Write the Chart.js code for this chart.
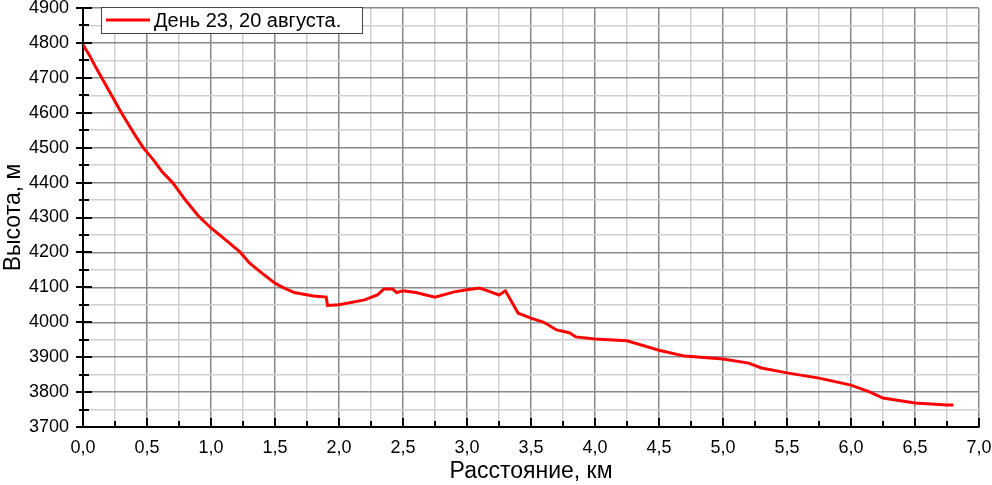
<!DOCTYPE html>
<html>
<head>
<meta charset="utf-8">
<script src="https://cdn.jsdelivr.net/npm/chart.js@4/dist/chart.umd.min.js"></script>
<style>
  html, body { margin: 0; padding: 0; background: #fff; }
  #wrap { width: 992px; height: 485px; }
</style>
</head>
<body>
<div id="wrap"><canvas id="profileChart"></canvas></div>
<script>
// профиль дня 23
var distKm = [0, 0.05, 0.1, 0.2, 0.3, 0.4, 0.47, 0.55, 0.62, 0.7, 0.8, 0.9, 1.0, 1.1, 1.23, 1.3, 1.4, 1.5, 1.56, 1.65,
    1.8, 1.9, 1.91, 2.0, 2.2, 2.3, 2.35, 2.42, 2.45, 2.5, 2.6, 2.75, 2.9, 3.0, 3.1, 3.2, 3.25, 3.3, 3.4, 3.5,
    3.6, 3.7, 3.8, 3.85, 4.0, 4.25, 4.5, 4.7, 5.0, 5.2, 5.3, 5.5, 5.75, 6.0, 6.15, 6.25, 6.5, 6.75, 6.8];
var elevM = [4795, 4765, 4730, 4665, 4600, 4540, 4500, 4465, 4430, 4400, 4350, 4305, 4270, 4240, 4200, 4170, 4140, 4112, 4100, 4085,
    4075, 4072, 4048, 4050, 4064, 4078, 4095, 4095, 4085, 4090, 4085, 4072, 4087, 4093, 4098, 4085, 4078, 4090, 4026, 4012,
    4000, 3978, 3970, 3958, 3952, 3947, 3920, 3903, 3895, 3883, 3869, 3855, 3840, 3820, 3800, 3783, 3769, 3763, 3763];
var seriesName = 'День 23, 20 августа.';
var xTitle = 'Расстояние, км';
var yTitle = 'Высота, м';

var points = [];
for (var i = 0; i < distKm.length; i++) {
    points.push({x: distKm[i], y: elevM[i]});
}

var FONT = '"Liberation Sans", Arial, sans-serif';

// ticks inside + legend box like in Origin
var originStyle = {
    id: 'originStyle',
    afterDraw: function (chart) {
        var c = chart.ctx, a = chart.chartArea;
        var xs = chart.scales.x, ys = chart.scales.y;
        c.save();
        c.strokeStyle = '#000';
        c.lineWidth = 2;
        // x ticks
        for (var v = 0; v <= 7.0001; v += 0.25) {
            var px = Math.round(xs.getPixelForValue(v));
            var major = Math.abs(v * 2 - Math.round(v * 2)) < 0.001;
            c.beginPath();
            c.moveTo(px, a.bottom);
            c.lineTo(px, a.bottom - (major ? 9 : 6));
            c.stroke();
        }
        // y ticks
        for (var w = 3700; w <= 4900; w += 50) {
            var py = Math.round(ys.getPixelForValue(w));
            var maj = w % 100 === 0;
            c.beginPath();
            c.moveTo(a.left - (maj ? 7 : 4), py);
            c.lineTo(a.left + (maj ? 9 : 6), py);
            c.stroke();
        }
        // legend
        var bx = 101, by = 7, bw = 261, bh = 26;
        c.fillStyle = '#fff';
        c.fillRect(bx, by, bw, bh);
        c.lineWidth = 1;
        c.strokeStyle = '#444';
        c.strokeRect(bx + 0.5, by + 0.5, bw, bh);
        c.strokeStyle = '#ff0000';
        c.lineWidth = 3;
        c.beginPath();
        c.moveTo(106, 20);
        c.lineTo(150, 20);
        c.stroke();
        c.fillStyle = '#000';
        c.font = '20px ' + FONT;
        c.textBaseline = 'middle';
        c.fillText(seriesName, 154, 21);
        c.restore();
    }
};

var ctx = document.getElementById('profileChart');

var profileChart = new Chart(ctx, {
    type: 'line',
    data: {
        datasets: [{
            label: seriesName,
            data: points,
            borderColor: '#ff0000',
            borderWidth: 3,
            pointRadius: 0,
            tension: 0,
            fill: false
        }]
    },
    options: {
        responsive: true,
        maintainAspectRatio: false,
        animation: false,
        layout: {padding: {top: 8, right: 13, left: 0, bottom: 0}},
        plugins: {
            legend: {display: false},
            tooltip: {enabled: false}
        },
        scales: {
            x: {
                type: 'linear',
                min: 0,
                max: 7,
                afterFit: function (s) {
                    s.height = 58;
                    s.paddingLeft = 0;
                    s.paddingRight = 0;
                },
                border: {color: '#000', width: 2},
                grid: {
                    drawTicks: false,
                    lineWidth: 1.5,
                    color: function (c) {
                        var v = c.tick.value;
                        return Math.abs(v * 2 - Math.round(v * 2)) < 0.001 ? '#8a8a8a' : '#d0d0d0';
                    }
                },
                ticks: {
                    stepSize: 0.25,
                    autoSkip: false,
                    maxRotation: 0,
                    padding: 10,
                    color: '#000',
                    font: {family: FONT, size: 18},
                    callback: function (v) {
                        if (Math.abs(v * 2 - Math.round(v * 2)) > 0.001) return '';
                        return v.toFixed(1).replace('.', ',');
                    }
                },
                title: {
                    display: true,
                    text: xTitle,
                    color: '#000',
                    font: {family: FONT, size: 23},
                    padding: {top: 0, bottom: 0}
                }
            },
            y: {
                min: 3700,
                max: 4900,
                afterFit: function (s) {
                    s.width = 83;
                    s.paddingTop = 0;
                    s.paddingBottom = 0;
                },
                border: {color: '#000', width: 2},
                grid: {
                    drawTicks: false,
                    lineWidth: 1.5,
                    color: function (c) {
                        return c.tick.value % 100 === 0 ? '#8a8a8a' : '#d0d0d0';
                    }
                },
                ticks: {
                    stepSize: 50,
                    autoSkip: false,
                    padding: 14,
                    color: '#000',
                    font: {family: FONT, size: 18},
                    callback: function (v) {
                        return v % 100 === 0 ? String(v) : '';
                    }
                },
                title: {
                    display: true,
                    text: yTitle,
                    color: '#000',
                    font: {family: FONT, size: 23},
                    padding: {top: 0, bottom: 0}
                }
            }
        }
    },
    plugins: [originStyle]
});
</script>
</body>
</html>
